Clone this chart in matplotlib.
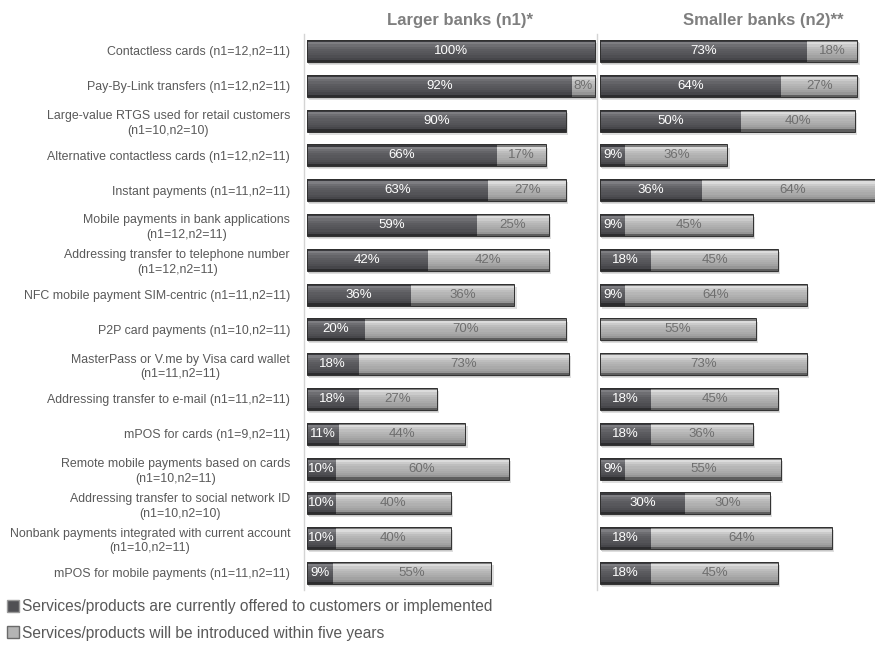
import numpy as np
import matplotlib
matplotlib.use('Agg')
import matplotlib.pyplot as plt
from matplotlib.patches import Patch

matplotlib.rcParams['font.family'] = ['Liberation Sans', 'DejaVu Sans']

# data
categories = [
    'Contactless cards (n1=12,n2=11)',
    'Pay-By-Link transfers (n1=12,n2=11)',
    'Large-value RTGS used for retail customers\n(n1=10,n2=10)',
    'Alternative contactless cards (n1=12,n2=11)',
    'Instant payments (n1=11,n2=11)',
    'Mobile payments in bank applications\n(n1=12,n2=11)',
    'Addressing transfer to telephone number\n(n1=12,n2=11)',
    'NFC mobile payment SIM-centric (n1=11,n2=11)',
    'P2P card payments (n1=10,n2=11)',
    'MasterPass or V.me by Visa card wallet\n(n1=11,n2=11)',
    'Addressing transfer to e-mail (n1=11,n2=11)',
    'mPOS for cards (n1=9,n2=11)',
    'Remote mobile payments based on cards\n(n1=10,n2=11)',
    'Addressing transfer to social network ID\n(n1=10,n2=10)',
    'Nonbank payments integrated with current account\n(n1=10,n2=11)',
    'mPOS for mobile payments (n1=11,n2=11)',
]
large_now = [100, 92, 90, 66, 63, 59, 42, 36, 20, 18, 18, 11, 10, 10, 10, 9]
large_future = [0, 8, 0, 17, 27, 25, 42, 36, 70, 73, 27, 44, 60, 40, 40, 55]
small_now = [73, 64, 50, 9, 36, 9, 18, 9, 0, 0, 18, 18, 9, 30, 18, 18]
small_future = [18, 27, 40, 36, 64, 45, 45, 64, 55, 73, 45, 36, 55, 30, 64, 45]

titles = ['Larger banks (n1)*', 'Smaller banks (n2)**']
legend_labels = ['Services/products are currently offered to customers or implemented',
                 'Services/products will be introduced within five years']

bar_h = 0.63
y = np.arange(len(categories))

# vertical shading from top to bottom of a bar (fake bevel)
dark_shades = ['#3a3a3e', '#7e7e82', '#6e6e72', '#646468', '#5c5c60', '#58585c',
               '#545458', '#4e4e52', '#46464a', '#2c2c2e']
light_shades = ['#7e7e7e', '#dcdcdc', '#cbcbcb', '#bebebe', '#b6b6b6', '#b0b0b0',
                '#aaaaaa', '#a2a2a2', '#969696', '#5e5e5e']


def draw_segment(ax, left, width, shades):
    strip = bar_h / len(shades)
    for k, c in enumerate(shades):
        ax.barh(y - bar_h / 2 + strip * (k + 0.5), width, height=strip * 1.02,
                left=left, color=c, linewidth=0, zorder=3)


def draw_panel(ax, now, future):
    now = np.array(now)
    future = np.array(future)
    total = now + future
    # soft shadow
    ax.barh(y + 0.09, total, height=bar_h, left=0.8, color='#dedede', linewidth=0, zorder=1)
    ax.barh(y + 0.05, total, height=bar_h, left=0.4, color='#c8c8c8', linewidth=0, zorder=2)
    draw_segment(ax, 0, now, dark_shades)
    draw_segment(ax, now, future, light_shades)
    ax.barh(y, total, height=bar_h, fill=False, edgecolor='#303030', linewidth=0.7, zorder=4)
    for i in range(len(y)):
        if now[i] > 0:
            ax.text(now[i] / 2, i, f'{now[i]}%', ha='center', va='center',
                    color='white', fontsize=9.5, zorder=5)
        if future[i] > 0:
            ax.text(now[i] + future[i] / 2, i, f'{future[i]}%', ha='center', va='center',
                    color='#6e6e6e', fontsize=9.5, zorder=5)
    ax.set_ylim(len(y) - 0.5, -0.5)
    ax.set_xticks([])
    for s in ['top', 'right', 'bottom']:
        ax.spines[s].set_visible(False)
    ax.spines['left'].set_color('#d4d4d4')
    ax.spines['left'].set_linewidth(1.0)


fig = plt.figure(figsize=(8.75, 6.5), dpi=100)
W, H = 875, 650
top_px, bot_px = 33.6, 590.4

ax1 = fig.add_axes([304 / W, 1 - bot_px / H, 293 / W, (bot_px - top_px) / H])
ax2 = fig.add_axes([597 / W, 1 - bot_px / H, 278 / W, (bot_px - top_px) / H])

draw_panel(ax1, large_now, large_future)
ax1.set_xlim(-1.0, 100.7)
ax1.set_yticks(y)
ax1.set_yticklabels(categories, fontsize=8.9, color='#595959', linespacing=1.3)
for t in ax1.get_yticklabels():
    t.set_multialignment('center')
ax1.tick_params(axis='y', length=0, pad=10)

draw_panel(ax2, small_now, small_future)
ax2.set_xlim(-1.05, 97.2)
ax2.set_yticks([])

fig.text(460 / W, 1 - 20 / H, titles[0], ha='center', va='center',
         fontsize=12, fontweight='bold', color='#7f7f7f')
fig.text(763 / W, 1 - 20 / H, titles[1], ha='center', va='center',
         fontsize=12, fontweight='bold', color='#7f7f7f')

handles = [Patch(facecolor='#505054', edgecolor='#9a9a9a'),
           Patch(facecolor='#b4b4b4', edgecolor='#6a6a6a')]
leg = fig.legend(handles, legend_labels, loc='lower left', bbox_to_anchor=(-0.003, 0.0),
                 frameon=False, fontsize=11.2, handlelength=0.8, handleheight=0.8,
                 handletextpad=0.2, labelspacing=0.75, borderaxespad=0.2)
for t in leg.get_texts():
    t.set_color('#595959')

fig.savefig('out.png', dpi=100)
